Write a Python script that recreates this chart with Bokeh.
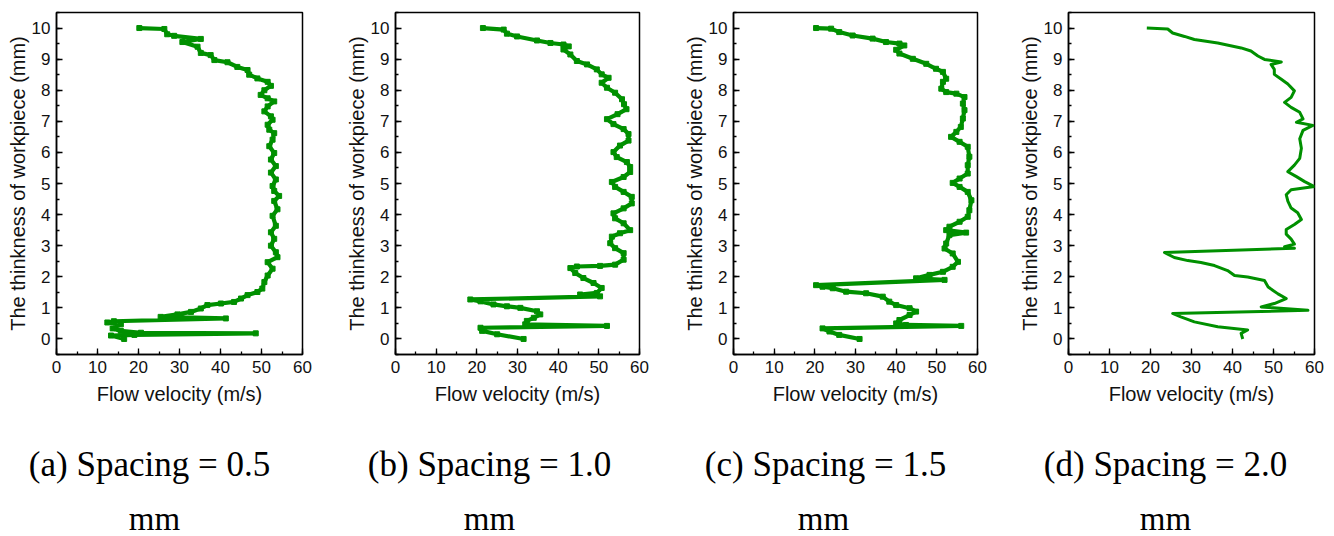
from bokeh.plotting import figure
from bokeh.layouts import row, column
from bokeh.models import Range1d, SingleIntervalTicker
from bokeh.embed import file_html
from bokeh.resources import INLINE
from bokeh.core.properties import value

# ---------------- data ----------------
# (a) spacing = 0.5 mm
vel_a = [20.2, 26.3, 27.0, 28.7, 35.2, 30.7, 34.4, 35.2, 37.6, 38.5, 41.7, 44.1, 46.6, 47.0, 49.0,
         51.5, 52.3, 50.7, 49.8, 51.5, 53.1, 51.5, 50.7, 52.3, 52.7, 51.5, 51.9, 53.1, 52.7, 51.9,
         53.1, 52.3, 53.5, 52.3, 53.5, 52.7, 53.1, 54.3, 53.1, 53.9, 52.7, 53.5, 52.3, 53.1, 52.3,
         53.5, 53.9, 51.5, 52.7, 51.5, 50.7, 50.2, 49.0, 46.6, 45.0, 43.3, 40.1, 36.8, 35.2, 32.8,
         29.5, 25.4, 41.3, 14.0, 12.4, 15.7, 13.7, 15.7, 20.6, 48.6, 19.0, 13.3, 16.5]
thk_a = [10.0, 9.97, 9.8, 9.75, 9.65, 9.55, 9.4, 9.2, 9.13, 8.97, 8.9, 8.75, 8.65, 8.5, 8.38,
         8.27, 8.14, 8.0, 7.85, 7.74, 7.64, 7.48, 7.32, 7.16, 7.05, 6.89, 6.73, 6.62, 6.41, 6.2,
         5.98, 5.77, 5.56, 5.35, 5.13, 4.92, 4.76, 4.6, 4.44, 4.17, 3.96, 3.64, 3.43, 3.22, 3.0,
         2.79, 2.63, 2.47, 2.26, 2.04, 1.83, 1.62, 1.51, 1.41, 1.3, 1.19, 1.14, 1.09, 0.98, 0.87,
         0.79, 0.71, 0.66, 0.57, 0.53, 0.47, 0.34, 0.26, 0.2, 0.18, 0.13, 0.11, 0.0]

# (b) spacing = 1.0 mm
vel_b = [21.5, 26.6, 27.4, 29.9, 34.8, 38.1, 41.3, 42.6, 41.3, 43.0, 44.6, 47.1, 49.5, 50.7, 52.4,
         50.7, 52.0, 54.0, 55.7, 56.2, 56.8, 54.6, 52.0, 53.6, 56.1, 57.3, 57.3, 55.2, 53.6, 54.4,
         56.9, 57.7, 57.7, 56.1, 53.2, 54.0, 56.1, 58.1, 58.1, 56.1, 53.6, 54.0, 56.1, 57.7, 55.2,
         53.2, 52.8, 54.0, 56.1, 56.1, 54.0, 50.3, 44.6, 43.0, 44.2, 46.2, 48.7, 50.7, 49.5, 45.4,
         50.3, 18.4, 20.9, 24.1, 27.4, 30.7, 34.8, 35.6, 34.0, 32.3, 31.9, 52.0, 20.9, 21.3, 25.0,
         31.5]
thk_b = [10.0, 9.95, 9.82, 9.73, 9.6, 9.52, 9.47, 9.41, 9.31, 9.15, 8.94, 8.83, 8.67, 8.51, 8.4,
         8.24, 8.08, 7.92, 7.71, 7.55, 7.39, 7.23, 7.07, 6.91, 6.75, 6.59, 6.38, 6.22, 6.01, 5.85,
         5.69, 5.53, 5.37, 5.21, 5.05, 4.89, 4.73, 4.57, 4.36, 4.2, 4.04, 3.88, 3.72, 3.5, 3.4,
         3.29, 3.08, 2.92, 2.76, 2.55, 2.39, 2.35, 2.33, 2.28, 2.12, 1.96, 1.8, 1.64, 1.48, 1.43,
         1.37, 1.27, 1.21, 1.11, 1.05, 1.0, 0.89, 0.79, 0.68, 0.58, 0.47, 0.42, 0.36, 0.26, 0.15,
         0.0]

# (c) spacing = 1.5 mm
vel_c = [20.3, 24.0, 26.0, 29.3, 34.2, 37.5, 40.8, 42.0, 40.0, 40.8, 44.1, 47.4, 49.8, 51.5, 52.3,
         51.5, 51.1, 52.3, 54.8, 56.8, 56.4, 56.8, 56.4, 55.9, 54.8, 53.5, 55.6, 57.6, 58.0, 57.6,
         57.6, 55.6, 53.9, 55.6, 57.6, 58.5, 58.0, 57.6, 55.6, 53.1, 52.3, 57.2, 53.1, 52.3, 51.9,
         53.9, 55.2, 53.9, 51.5, 48.2, 44.9, 51.9, 20.3, 21.9, 24.4, 27.7, 32.6, 36.7, 38.3, 40.0,
         43.3, 44.9, 43.3, 40.8, 40.0, 42.4, 56.0, 21.9, 23.6, 26.0, 31.0]
thk_c = [10.0, 9.98, 9.87, 9.76, 9.66, 9.55, 9.5, 9.44, 9.3, 9.18, 9.01, 8.85, 8.69, 8.59, 8.37,
         8.27, 8.05, 7.94, 7.89, 7.78, 7.57, 7.36, 7.09, 6.82, 6.66, 6.5, 6.34, 6.18, 5.86, 5.59,
         5.32, 5.16, 5.02, 4.89, 4.73, 4.46, 4.14, 3.93, 3.77, 3.61, 3.5, 3.42, 3.34, 3.07, 2.91,
         2.75, 2.48, 2.32, 2.16, 2.06, 1.95, 1.9, 1.73, 1.68, 1.63, 1.52, 1.47, 1.36, 1.2, 1.09,
         0.99, 0.88, 0.77, 0.61, 0.5, 0.45, 0.42, 0.34, 0.24, 0.13, 0.0]

# (d) spacing = 2.0 mm
vel_d = [19.1, 24.2, 25.4, 28.3, 30.7, 36.4, 42.1, 44.5, 46.2, 47.8, 51.9, 49.4, 50.2, 50.2, 51.9,
         53.5, 55.1, 54.3, 52.7, 54.3, 56.4, 57.2, 55.6, 59.6, 57.2, 56.4, 56.8, 56.4, 55.1, 53.5,
         55.6, 57.6, 60.0, 54.3, 53.1, 53.5, 54.3, 55.9, 56.8, 55.1, 53.1, 53.1, 54.3, 55.1, 52.7,
         55.1, 23.4, 25.8, 29.1, 32.3, 35.6, 38.8, 40.5, 43.7, 47.8, 48.7, 51.1, 53.1, 50.2, 47.0,
         58.4, 25.4, 27.4, 30.7, 36.4, 43.7, 42.1, 42.5]
thk_d = [10.0, 9.97, 9.84, 9.73, 9.63, 9.52, 9.36, 9.26, 9.1, 8.99, 8.91, 8.83, 8.67, 8.51, 8.35,
         8.2, 7.98, 7.77, 7.61, 7.45, 7.29, 7.08, 6.97, 6.87, 6.71, 6.44, 6.13, 5.81, 5.59, 5.38,
         5.22, 5.06, 4.9, 4.8, 4.64, 4.43, 4.21, 4.06, 3.84, 3.68, 3.52, 3.37, 3.21, 3.05, 2.97,
         2.92, 2.78, 2.62, 2.52, 2.46, 2.36, 2.2, 2.04, 1.99, 1.88, 1.67, 1.45, 1.3, 1.14, 1.03,
         0.92, 0.82, 0.71, 0.55, 0.39, 0.29, 0.18, 0.0]

captions = ["(a) Spacing = 0.5", "(b) Spacing = 1.0", "(c) Spacing = 1.5", "(d) Spacing = 2.0"]
caption_units = ["mm", "mm", "mm", "mm"]
x_label = "Flow velocity (m/s)"
y_label = "The thinkness of workpiece (mm)"

GREEN = "#009000"
SANS = "Liberation Sans"
SERIF = "Liberation Serif"


def panel(vel, thk, width, left, right, top, bottom, lw, msize):
    p = figure(width=width, height=420, output_backend="svg", toolbar_location=None,
               title=None,
               x_range=Range1d(0, 60), y_range=Range1d(-0.5, 10.5),
               min_border_left=left, min_border_right=right,
               min_border_top=top, min_border_bottom=bottom)
    p.xgrid.visible = False
    p.ygrid.visible = False
    p.outline_line_color = "black"
    p.outline_line_width = 1.5
    p.background_fill_color = "white"
    p.border_fill_color = "white"

    p.xaxis.ticker = SingleIntervalTicker(interval=10, num_minor_ticks=2)
    p.yaxis.ticker = SingleIntervalTicker(interval=1, num_minor_ticks=2)
    for ax in (p.xaxis[0], p.yaxis[0]):
        ax.axis_line_color = "black"
        ax.axis_line_width = 1.5
        ax.major_tick_in = 6
        ax.major_tick_out = 0
        ax.minor_tick_in = 3
        ax.minor_tick_out = 0
        ax.major_tick_line_width = 1.3
        ax.minor_tick_line_width = 1.3
        ax.major_label_text_font = SANS
        ax.major_label_text_font_size = "17px"
        ax.major_label_text_color = "#111111"
        ax.major_label_standoff = 6
        ax.axis_label_text_font = SANS
        ax.axis_label_text_font_size = "20px"
        ax.axis_label_text_font_style = "normal"
        ax.axis_label_text_color = "#111111"
    p.xaxis.axis_label = x_label
    p.yaxis.axis_label = y_label
    p.xaxis.axis_label_standoff = 7
    p.yaxis.axis_label_standoff = 0

    p.line(vel, thk, line_color=GREEN, line_width=lw, line_join="round")
    if msize > 0:
        p.scatter(vel, thk, marker="square", size=msize, fill_color=GREEN, line_color=GREEN)
    return p


pa = panel(vel_a, thk_a, 340, 56, 38, 12, 64, 4.2, 5)
pb = panel(vel_b, thk_b, 332, 55, 33, 12, 65, 4.2, 5)
pc = panel(vel_c, thk_c, 334, 61, 29, 12, 66, 4.2, 5)
pd = panel(vel_d, thk_d, 328, 62, 20, 9, 66, 3.0, 0)

cap = figure(width=1334, height=116, output_backend="svg", toolbar_location=None,
             title=None,
             x_range=Range1d(0, 1334), y_range=Range1d(0, 116),
             x_axis_location=None, y_axis_location=None, min_border=0)
cap.xgrid.visible = False
cap.ygrid.visible = False
cap.outline_line_color = None
cap.background_fill_color = "white"
cap.border_fill_color = "white"

cap_x = [149, 489, 825, 1165]
cap_y = [72, 72, 72, 72]
unit_x = [154, 489, 823, 1165]
unit_y = [17.5, 17.5, 17.5, 17.5]
cap.text(x=cap_x, y=cap_y, text=captions, text_font=value(SERIF), text_font_size="35px",
         text_align="center", text_baseline="alphabetic", text_color="black")
cap.text(x=unit_x, y=unit_y, text=caption_units, text_font=value(SERIF), text_font_size="33px",
         text_align="center", text_baseline="alphabetic", text_color="black")

layout = column(row(pa, pb, pc, pd), cap)
open("out.html", "w").write(file_html(layout, INLINE))
